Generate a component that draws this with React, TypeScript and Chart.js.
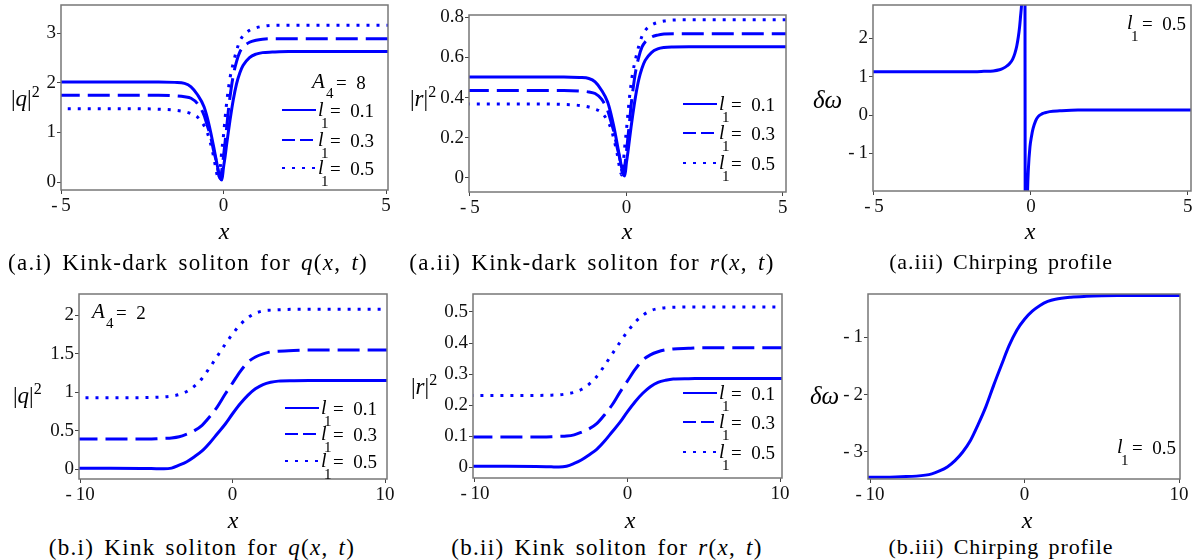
import React, { useEffect, useRef } from "react";
import { Chart, registerables } from "chart.js";
Chart.register(...registerables);

// ---------- data ----------
// (a.i)/(a.ii) x samples
const xA = [-5.1, -3, -2, -1.5, -1.2, -1.0, -0.8, -0.6, -0.5, -0.4, -0.3, -0.2, -0.15, -0.1, -0.05, 0, 0.05, 0.1, 0.15, 0.2, 0.3, 0.4, 0.5, 0.6, 0.8, 1.0, 1.2, 1.5, 2, 3, 5.2];
const qA1 = [2.02, 2.02, 2.02, 2.01, 1.99, 1.92, 1.76, 1.52, 1.3, 1.02, 0.7, 0.36, 0.2, 0.08, 0.04, 0.3, 0.52, 0.78, 1.02, 1.25, 1.66, 1.98, 2.2, 2.35, 2.51, 2.58, 2.61, 2.62, 2.63, 2.63, 2.63];
const qA3 = [1.75, 1.75, 1.75, 1.74, 1.72, 1.69, 1.58, 1.35, 1.14, 0.92, 0.62, 0.35, 0.15, 0.07, 0.25, 0.52, 0.82, 1.12, 1.45, 1.72, 2.15, 2.43, 2.62, 2.72, 2.82, 2.86, 2.88, 2.89, 2.89, 2.89, 2.89];
const qA5 = [1.48, 1.48, 1.47, 1.45, 1.42, 1.38, 1.31, 1.14, 1.0, 0.78, 0.5, 0.15, 0.06, 0.3, 0.65, 0.95, 1.3, 1.62, 1.88, 2.1, 2.4, 2.65, 2.84, 2.95, 3.06, 3.11, 3.14, 3.16, 3.16, 3.16, 3.16];
const rA1 = [0.503, 0.503, 0.503, 0.5, 0.495, 0.478, 0.438, 0.378, 0.323, 0.254, 0.174, 0.09, 0.05, 0.02, 0.01, 0.075, 0.13, 0.194, 0.254, 0.311, 0.413, 0.493, 0.547, 0.585, 0.624, 0.642, 0.649, 0.652, 0.653, 0.653, 0.653];
const rA3 = [0.435, 0.435, 0.435, 0.433, 0.428, 0.42, 0.393, 0.336, 0.284, 0.229, 0.154, 0.087, 0.037, 0.017, 0.062, 0.129, 0.204, 0.279, 0.361, 0.428, 0.535, 0.604, 0.652, 0.677, 0.701, 0.711, 0.716, 0.718, 0.718, 0.718, 0.718];
const rA5 = [0.368, 0.368, 0.366, 0.361, 0.353, 0.343, 0.326, 0.284, 0.249, 0.194, 0.124, 0.037, 0.015, 0.075, 0.162, 0.236, 0.323, 0.403, 0.468, 0.522, 0.597, 0.659, 0.706, 0.734, 0.761, 0.774, 0.781, 0.786, 0.787, 0.787, 0.787];

// (a.iii)
const xC = [-5.2, -3, -2, -1.5, -1.2, -1.0, -0.88, -0.75, -0.67, -0.58, -0.51, -0.45, -0.4, -0.36, -0.33, -0.3, -0.27, -0.24, -0.2, -0.17, -0.14, -0.11, -0.08, -0.03, 0.02, 0.07, 0.15, 0.23, 0.35, 0.45, 0.6, 0.92, 1.5, 3, 5.2];
const dwA = [1.13, 1.13, 1.13, 1.14, 1.15, 1.18, 1.22, 1.29, 1.35, 1.46, 1.61, 1.8, 2.04, 2.3, 2.57, 2.85, 3.4, 5, 10, -10, -4, -2.1, -1.4, -0.83, -0.55, -0.35, -0.15, -0.04, 0.03, 0.06, 0.09, 0.11, 0.13, 0.13, 0.13];

// (b.i)/(b.ii)
const xB = [-10.3, -8, -6, -5, -4.5, -4, -3.5, -3, -2.5, -2, -1.5, -1, -0.5, 0, 0.5, 1, 1.5, 2, 2.5, 3, 4, 5, 6, 8, 10.3];
const qB1 = [0.01, 0.01, 0.008, 0.004, 0.002, 0.012, 0.05, 0.095, 0.16, 0.235, 0.34, 0.46, 0.58, 0.72, 0.85, 0.96, 1.045, 1.1, 1.13, 1.145, 1.15, 1.152, 1.152, 1.152, 1.152];
const qB3 = [0.39, 0.39, 0.39, 0.395, 0.4, 0.405, 0.42, 0.455, 0.5, 0.57, 0.68, 0.81, 0.97, 1.12, 1.27, 1.39, 1.46, 1.5, 1.525, 1.535, 1.545, 1.55, 1.55, 1.55, 1.55];
const qB5 = [0.93, 0.93, 0.93, 0.935, 0.94, 0.95, 0.97, 1.01, 1.08, 1.18, 1.32, 1.47, 1.62, 1.76, 1.88, 1.97, 2.03, 2.06, 2.07, 2.075, 2.08, 2.08, 2.08, 2.08, 2.08];
const rB1 = [0.0025, 0.0025, 0.002, 0.001, 0.0005, 0.003, 0.012, 0.024, 0.04, 0.058, 0.084, 0.114, 0.144, 0.179, 0.211, 0.238, 0.259, 0.273, 0.28, 0.284, 0.285, 0.286, 0.286, 0.286, 0.286];
const rB3 = [0.097, 0.097, 0.097, 0.098, 0.099, 0.1, 0.104, 0.113, 0.124, 0.141, 0.169, 0.201, 0.241, 0.278, 0.315, 0.345, 0.362, 0.372, 0.378, 0.381, 0.383, 0.385, 0.385, 0.385, 0.385];
const rB5 = [0.231, 0.231, 0.231, 0.232, 0.233, 0.236, 0.241, 0.251, 0.268, 0.293, 0.328, 0.365, 0.402, 0.437, 0.467, 0.489, 0.504, 0.511, 0.514, 0.515, 0.516, 0.516, 0.516, 0.516, 0.516];

// (b.iii)
const xD = [-10.3, -9, -8, -7, -6, -5.5, -5, -4.5, -4, -3.5, -3, -2.5, -2, -1.5, -1, -0.5, 0, 0.5, 1, 1.5, 2, 3, 4, 5, 6, 8, 10.3];
const dwB = [-3.44, -3.44, -3.43, -3.42, -3.38, -3.33, -3.26, -3.15, -3.0, -2.8, -2.52, -2.21, -1.84, -1.49, -1.15, -0.88, -0.69, -0.55, -0.45, -0.38, -0.34, -0.305, -0.29, -0.282, -0.278, -0.276, -0.275];

// tick values
const xTicksA = [-5, 0, 5];
const xTicksB = [-10, 0, 10];
const yTicksQA = [0, 1, 2, 3];
const yTicksRA = [0, 0.2, 0.4, 0.6, 0.8];
const yTicksWA = [-1, 0, 1, 2];
const yTicksQB = [0, 0.5, 1, 1.5, 2];
const yTicksRB = [0, 0.1, 0.2, 0.3, 0.4, 0.5];
const yTicksWB = [-3, -2, -1];
const legendValues = ["0.1", "0.3", "0.5"];

// ---------- styles ----------
const BLUE = "#0000ff";
const SOLID: number[] = [];
const DASH = [22, 8];
const DOT = [3, 7];
const SERIF = "'Liberation Serif', 'Times New Roman', serif";

type Series = { xs: number[]; ys: number[]; dash: number[] };
type Panel = {
  key: string;
  L: number; R: number; T: number; B: number;
  xMin: number; xMax: number; yMin: number; yMax: number;
  xTicks: number[]; yTicks: number[];
  series: Series[];
};

const panels: Panel[] = [
  { key: "ai", L: 61, R: 388, T: 5, B: 190, xMin: -5, xMax: 5.06, yMin: -0.16, yMax: 3.57, xTicks: xTicksA, yTicks: yTicksQA,
    series: [{ xs: xA, ys: qA1, dash: SOLID }, { xs: xA, ys: qA3, dash: DASH }, { xs: xA, ys: qA5, dash: DOT }] },
  { key: "aii", L: 469, R: 786, T: 15, B: 192, xMin: -5.03, xMax: 5.1, yMin: -0.07, yMax: 0.811, xTicks: xTicksA, yTicks: yTicksRA,
    series: [{ xs: xA, ys: rA1, dash: SOLID }, { xs: xA, ys: rA3, dash: DASH }, { xs: xA, ys: rA5, dash: DOT }] },
  { key: "aiii", L: 873, R: 1191, T: 5, B: 191, xMin: -5.03, xMax: 5.1, yMin: -1.98, yMax: 2.87, xTicks: xTicksA, yTicks: yTicksWA,
    series: [{ xs: xC, ys: dwA, dash: SOLID }] },
  { key: "bi", L: 79, R: 387, T: 294, B: 479, xMin: -10.07, xMax: 10.13, yMin: -0.13, yMax: 2.28, xTicks: xTicksB, yTicks: yTicksQB,
    series: [{ xs: xB, ys: qB1, dash: SOLID }, { xs: xB, ys: qB3, dash: DASH }, { xs: xB, ys: qB5, dash: DOT }] },
  { key: "bii", L: 473, R: 782, T: 294, B: 478, xMin: -10.13, xMax: 10.13, yMin: -0.035, yMax: 0.558, xTicks: xTicksB, yTicks: yTicksRB,
    series: [{ xs: xB, ys: rB1, dash: SOLID }, { xs: xB, ys: rB3, dash: DASH }, { xs: xB, ys: rB5, dash: DOT }] },
  { key: "biii", L: 868, R: 1180, T: 294, B: 479, xMin: -10.13, xMax: 10.06, yMin: -3.47, yMax: -0.25, xTicks: xTicksB, yTicks: yTicksWB,
    series: [{ xs: xD, ys: dwB, dash: SOLID }] },
];

const fmt = (v: number) => {
  const s = String(Math.abs(+v.toFixed(3)));
  return v < 0 ? "-\u2009" + s : s;
};

const boxPlugin = {
  id: "frameBox",
  afterDatasetsDraw(chart: any) {
    const { ctx, chartArea: a } = chart;
    ctx.save();
    ctx.strokeStyle = "#777";
    ctx.lineWidth = 1.5;
    ctx.strokeRect(a.left, a.top, a.right - a.left, a.bottom - a.top);
    ctx.restore();
  },
};

const PADL = 50, PADT = 16, PADR = 18, PADB = 30;

function PlotCanvas({ p }: { p: Panel }) {
  const ref = useRef<HTMLCanvasElement>(null);
  const w = p.R - p.L + PADL + PADR;
  const h = p.B - p.T + PADT + PADB;
  useEffect(() => {
    const tickFont = { family: SERIF, size: 19 };
    const chart = new Chart(ref.current as HTMLCanvasElement, {
      type: "line",
      data: {
        datasets: p.series.map((s) => ({
          data: s.xs.map((x, i) => ({ x, y: s.ys[i] })),
          borderColor: BLUE,
          borderWidth: 3,
          borderDash: s.dash,
          pointRadius: 0,
          fill: false,
          cubicInterpolationMode: "monotone",
          clip: 0,
        })),
      } as any,
      options: {
        animation: false,
        responsive: false,
        maintainAspectRatio: false,
        events: [],
        layout: { padding: { left: 0, top: PADT, right: PADR, bottom: 0 } },
        plugins: { legend: { display: false }, tooltip: { enabled: false } },
        scales: {
          x: {
            type: "linear",
            min: p.xMin,
            max: p.xMax,
            afterFit: (s: any) => { s.height = PADB; },
            afterBuildTicks: (s: any) => { s.ticks = p.xTicks.map((v) => ({ value: v })); },
            ticks: { font: tickFont, color: "#111", padding: 1, maxRotation: 0, autoSkip: false, callback: (v: any) => fmt(Number(v)) },
            grid: { drawOnChartArea: false, drawTicks: true, tickLength: 4, color: "#444", lineWidth: 1 },
            border: { display: false },
          },
          y: {
            type: "linear",
            min: p.yMin,
            max: p.yMax,
            afterFit: (s: any) => { s.width = PADL; },
            afterBuildTicks: (s: any) => { s.ticks = p.yTicks.map((v) => ({ value: v })); },
            ticks: { font: tickFont, color: "#111", padding: 1, autoSkip: false, callback: (v: any) => fmt(Number(v)) },
            grid: { drawOnChartArea: false, drawTicks: true, tickLength: 4, color: "#444", lineWidth: 1 },
            border: { display: false },
          },
        },
      } as any,
      plugins: [boxPlugin],
    });
    return () => chart.destroy();
  }, []);
  return (
    <canvas
      ref={ref}
      width={w}
      height={h}
      style={{ position: "absolute", left: p.L - PADL, top: p.T - PADT, width: w, height: h }}
    />
  );
}

function Txt({ x, y, size, italic, center, children }: { x: number; y: number; size: number; italic?: boolean; center?: boolean; children: React.ReactNode }) {
  const style: React.CSSProperties = {
    position: "absolute",
    left: x,
    top: y - size / 2,
    fontSize: size,
    lineHeight: `${size}px`,
    whiteSpace: "nowrap",
    fontFamily: SERIF,
    fontStyle: italic ? "italic" : "normal",
    transform: center ? "translateX(-50%)" : undefined,
  };
  return <div style={style}>{children}</div>;
}

function LegendRow({ x0, y, dash, val }: { x0: number; y: number; dash: string; val: string }) {
  return (
    <>
      <svg style={{ position: "absolute", left: x0, top: y - 3 }} width={34} height={6}>
        <line x1={0} y1={3} x2={34} y2={3} stroke={BLUE} strokeWidth={2} strokeDasharray={dash} />
      </svg>
      <Txt x={x0 + 36} y={y - 1} size={20} italic>l</Txt>
      <Txt x={x0 + 39} y={y + 13} size={15}>1</Txt>
      <Txt x={x0 + 48} y={y} size={19}>{"=\u2002" + val}</Txt>
    </>
  );
}

function Legend({ x0, ys }: { x0: number; ys: number[] }) {
  const dashes = ["", "13 5", "3 7"];
  return (
    <>
      {ys.map((y, i) => (
        <LegendRow key={i} x0={x0} y={y} dash={dashes[i]} val={legendValues[i]} />
      ))}
    </>
  );
}

function L1({ x, y, val }: { x: number; y: number; val: string }) {
  return (
    <>
      <Txt x={x} y={y - 1} size={20} italic>l</Txt>
      <Txt x={x + 4} y={y + 13} size={15}>1</Txt>
      <Txt x={x + 15} y={y} size={19}>{"=\u2002" + val}</Txt>
    </>
  );
}

function A4({ x, y, val }: { x: number; y: number; val: string }) {
  return (
    <>
      <Txt x={x} y={y} size={21} italic>A</Txt>
      <Txt x={x + 14} y={y + 12} size={15}>4</Txt>
      <Txt x={x + 24} y={y + 1} size={19}>{"=\u2002" + val}</Txt>
    </>
  );
}

function AbsTitle({ x, y, letter }: { x: number; y: number; letter: string }) {
  return (
    <Txt x={x} y={y} size={23}>
      |<i>{letter}</i>|<span style={{ fontSize: 16, position: "relative", top: -9 }}>2</span>
    </Txt>
  );
}

function Caption({ x, y, label, text, fn }: { x: number; y: number; label: string; text: string; fn: string }) {
  return (
    <Txt x={x} y={y} size={23} center>
      <span style={{ letterSpacing: 1.3, wordSpacing: 3 }}>
        {label} {text} <i>{fn}</i>(<i>x</i>, <i>t</i>)
      </span>
    </Txt>
  );
}

function CaptionPlain({ x, y, label, text }: { x: number; y: number; label: string; text: string }) {
  return (
    <Txt x={x} y={y} size={22} center>
      <span style={{ letterSpacing: 0.9, wordSpacing: 3 }}>{label} {text}</span>
    </Txt>
  );
}

export default function App() {
  return (
    <div
      style={{
        position: "fixed",
        left: 0,
        top: 0,
        width: 1200,
        height: 560,
        background: "#fff",
        color: "#000",
        fontFamily: SERIF,
        overflow: "hidden",
      }}
    >
      {panels.map((p) => (
        <PlotCanvas key={p.key} p={p} />
      ))}

      {/* y-axis titles */}
      <AbsTitle x={11} y={98} letter="q" />
      <AbsTitle x={410} y={98} letter="r" />
      <Txt x={813} y={99} size={25} italic>δω</Txt>
      <AbsTitle x={13} y={395} letter="q" />
      <AbsTitle x={411} y={386} letter="r" />
      <Txt x={810} y={395} size={25} italic>δω</Txt>

      {/* x-axis titles */}
      <Txt x={224} y={231} size={24} italic center>x</Txt>
      <Txt x={627} y={231} size={24} italic center>x</Txt>
      <Txt x={1030} y={231} size={24} italic center>x</Txt>
      <Txt x={233} y={520} size={24} italic center>x</Txt>
      <Txt x={630} y={520} size={24} italic center>x</Txt>
      <Txt x={1027} y={520} size={24} italic center>x</Txt>

      {/* legends */}
      <A4 x={312} y={81} val="8" />
      <Legend x0={282} ys={[110, 140, 168]} />
      <Legend x0={683} ys={[104, 133, 163]} />
      <L1 x={1127} y={23} val="0.5" />
      <A4 x={92} y={311} val="2" />
      <Legend x0={285} ys={[408, 434, 461]} />
      <Legend x0={683} ys={[393, 422, 452]} />
      <L1 x={1117} y={447} val="0.5" />

      {/* captions */}
      <Caption x={188} y={262} label="(a.i)" text="Kink-dark soliton for" fn="q" />
      <Caption x={592} y={262} label="(a.ii)" text="Kink-dark soliton for" fn="r" />
      <CaptionPlain x={1001} y={262} label="(a.iii)" text="Chirping profile" />
      <Caption x={202} y={547} label="(b.i)" text="Kink soliton for" fn="q" />
      <Caption x={607} y={547} label="(b.ii)" text="Kink soliton for" fn="r" />
      <CaptionPlain x={1001} y={547} label="(b.iii)" text="Chirping profile" />
    </div>
  );
}
